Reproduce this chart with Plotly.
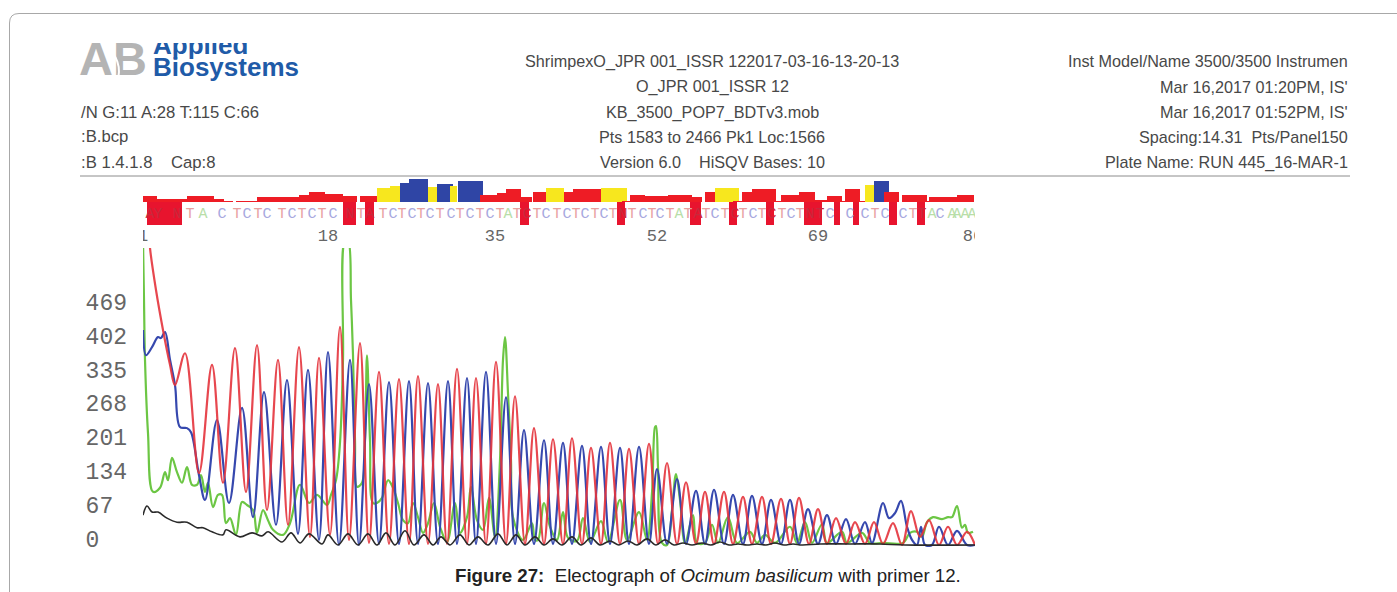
import plotly.graph_objects as go

W, H = 1397, 592

# ---- trace data: (scan position, signal) -----------------------------------
red_x = [149,150,156,163,170,175,185,199,212,223,235,246,257,267,278,288,299,310,319,330,340,349,360,369,
         379,389,399,409,418,428,438,447,457,467,476,486,496,506,515,525,534,544,553,563,572,582,591,601,
         610,620,629,639,649,658,667,677,686,696,705,714,724,733,743,752,762,771,781,790,799,809,818,827,
         836,846,855,865,874,883,893,902,911,920,929,939,948,957,967,975]
red_y = [622,587,504,425,356,316,379,142,356,123,389,105,395,69,366,40,391,16,370,20,431,10,399,4,
         342,2,328,2,334,2,318,2,348,2,330,2,362,2,294,2,231,2,209,2,211,2,192,2,
         202,2,190,2,200,2,162,2,124,2,105,2,105,2,95,2,95,2,91,2,93,2,71,2,
         53,2,45,2,45,2,43,0,67,16,49,0,36,0,26,0]

blue_x = [143,146,152,158,161,165,170,175,180,187,191,199,205,217,229,242,253,264,276,287,298,308,319,328,339,350,359,
          369,379,389,399,409,418,428,438,448,457,467,476,486,496,506,515,524,534,544,553,563,572,582,591,601,610,620,629,
          639,649,657,667,677,686,696,705,714,724,733,743,752,762,771,781,790,799,808,818,827,836,846,855,865,
          872,883,889,895,901,907,912,917,921,925,932,939,948,957,967,975]
blue_y = [425,375,391,411,409,421,366,316,233,231,223,138,89,247,83,271,55,302,40,326,22,346,10,381,0,366,0,
          318,2,322,2,324,2,320,2,324,2,330,2,342,2,292,2,227,2,207,2,202,2,196,2,194,2,192,2,
          194,2,150,2,130,2,107,2,109,2,99,2,97,2,89,2,89,2,71,2,59,2,51,2,45,
          4,83,53,63,87,36,10,0,36,0,0,36,0,28,0,0]

green_x = [143,144,145,148,153,160,165,168,172,177,182,187,192,197,201,205,208,213,218,222,226,230,236,242,247,253,257,263,268,273,283,290,300,309,317,327,331,336,340,343,
           345,348,351,353,355,357,362,365,367,370,373,377,382,388,393,398,403,408,413,418,423,428,434,440,447,455,460,467,471,477,483,489,495,500,503,505,508,511,513,
           523,532,535,538,544,550,557,563,568,577,583,590,601,608,620,627,639,647,652,655,656,658,662,667,672,676,680,685,693,697,705,712,718,728,737,750,757,765,775,
           790,797,805,812,822,827,842,847,862,870,883,903,910,917,922,927,933,942,948,952,957,962,965,968,973]
green_y = [603,484,366,221,105,113,144,128,172,144,123,154,119,119,138,105,123,75,99,99,43,53,20,85,79,69,24,69,49,30,20,43,119,83,99,79,99,128,202,366,
           603,603,484,375,207,115,123,207,375,207,83,83,93,128,113,83,49,43,83,55,24,43,83,36,6,83,24,55,115,49,30,93,16,168,366,411,300,168,55,
           10,43,10,10,83,36,10,65,14,8,53,6,47,6,89,10,65,10,103,233,235,154,4,0,69,140,89,4,59,4,4,40,4,55,4,26,4,20,4,
           36,4,45,4,41,4,26,4,24,4,4,4,24,26,16,45,55,51,55,55,77,34,40,24,26]

black_x = [143,147,152,158,167,177,187,197,203,212,223,226,240,252,262,268,282,291,300,309,322,328,338,348,358,368,377,
           386,395,405,414,424,433,441,450,460,469,478,488,498,507,516,525,535,544,553,562,572,581,591,600,610,619,628,637,647,656,
           665,674,683,692,702,711,720,729,738,747,757,766,775,784,793,802,820,850,880,905,975]
black_y = [59,77,65,65,53,45,45,34,34,26,20,30,16,24,18,26,6,24,4,22,2,20,0,22,0,22,0,
           24,0,28,0,20,0,16,0,20,0,16,0,22,0,20,0,16,0,12,0,16,0,14,0,8,0,8,0,12,0,
           10,0,4,0,4,0,6,0,2,0,2,0,4,0,2,0,2,2,2,0,0]

# ---- y tick labels ----------------------------------------------------------
y_ticks = [0,67,134,201,268,335,402,469]

# ---- quality bars: start, end, height, colour class ---------------------------
q_start = [142,157,187,214,224,236,257,299,309,325,343,360,377,390,400,409,428,437,450,458,480,497,506,521,533,546,564,573,601,622,630,645,668,692,705,715,733,742,752,776,781,799,815,827,842,845,860,865,874,884,902,927,929,957,
           147,343,365,520,617,690,729,766,804,834,853,889,917]
q_end   = [157,187,214,224,233,257,299,309,325,343,357,377,390,400,409,428,437,453,457,483,497,506,521,532,546,564,573,601,627,630,645,668,692,702,715,739,742,752,776,781,799,815,827,842,845,860,865,874,889,899,927,929,957,974,
           182,356,374,529,625,701,737,774,822,840,859,897,925]
q_val   = [6,3,6,3,1,1,5,7,10,8,6,6,14,16,19,23,15,18,16,21,7,9,13,5,10,14,10,13,14,1,7,6,7,5,10,14,1,10,13,1,7,10,2,6,1,13,1,17,21,10,7,1,5,7,
           -23,-23,-23,-23,-23,-23,-23,-23,-23,-23,-23,-23,-23]
q_kind  = list("rrrrrrrrrrrr" "yybbybyb" "rrrrr" "y" "rr" "y" "rrrrrr" "y" "rrrrrrrrrrr" "yb" "rrrrr") + list("d"*13)
Q_COL = {"r": "#ee1c25", "y": "#f7e71e", "b": "#2f45a5", "d": "#e8142e"}

# ---- called bases -----------------------------------------------------------
seq_x = [150,158,177,190,203,222,237,247,258,267,282,292,302,312,322,333,350,361,370,383,393,402,412,421,430,
         440,451,460,470,480,490,500,508,517,527,537,546,557,567,576,585,595,604,613,623,632,643,652,660,670,679,688,698,
         706,715,725,735,743,753,762,772,782,791,800,810,820,830,850,865,875,885,903,913,922,932,940,952,957,965,972]
seq_b = list("AYNTACTCTCTCTCTCNTATCTCTC" "TCTCTCTATCTCTCTCTCTNTCTCTATA" "TCTCTCTCTCTNTCCCTCCTTACAAAA")
BASE_COL = {"T": "#e8a0a0", "C": "#a8a8e0", "A": "#b8dea8", "N": "#b89090", "Y": "#b8c8a0"}
base_col = [("#c8283c" if any(a <= x <= b for a, b, v in zip(q_start, q_end, q_val) if v < 0) else BASE_COL[c])
            for x, c in zip(seq_x, seq_b)]

# ---- position-axis labels ---------------------------------------------------
pos_x = [143,328,495,657,818,973]
pos_text = ["1","18","35","52","69","86"]

# ---- text blocks ------------------------------------------------------------
left_text = ["/N G:11 A:28 T:115 C:66", ":B.bcp", ":B 1.4.1.8    Cap:8"]
center_text = ["ShrimpexO_JPR 001_ISSR 122017-03-16-13-20-13", "O_JPR 001_ISSR 12",
               "KB_3500_POP7_BDTv3.mob", "Pts 1583 to 2466 Pk1 Loc:1566", "Version 6.0    HiSQV Bases: 10"]
right_text = ["Inst Model/Name 3500/3500 Instrumen", "Mar 16,2017 01:20PM, IS'", "Mar 16,2017 01:52PM, IS'",
              "Spacing:14.31  Pts/Panel150", "Plate Name: RUN 445_16-MAR-1"]

fig = go.Figure()
common = dict(mode="lines", hoverinfo="skip", showlegend=False)
spl = dict(shape="spline", smoothing=1.0, width=2.2)
fig.add_trace(go.Scatter(x=green_x, y=green_y, line=dict(color="#6cc644", **spl), **common))
fig.add_trace(go.Scatter(x=blue_x, y=blue_y, line=dict(color="#3648ae", **spl), **common))
fig.add_trace(go.Scatter(x=red_x, y=red_y, line=dict(color="#e5343c", **spl), opacity=0.9, **common))
fig.add_trace(go.Scatter(x=black_x, y=black_y, line=dict(color="#2a2a2a", shape="spline", smoothing=1.0, width=1.6), **common))

fig.add_trace(go.Bar(x=[(a+b)/2 for a, b in zip(q_start, q_end)], width=[b-a for a, b in zip(q_start, q_end)],
                     y=q_val, yaxis="y2", marker=dict(color=[Q_COL[k] for k in q_kind], line_width=0),
                     hoverinfo="skip", showlegend=False))
fig.add_trace(go.Scatter(x=seq_x, y=[-12]*len(seq_x), yaxis="y2", mode="text", text=seq_b,
                         textfont=dict(family="Liberation Mono", size=15, color=base_col),
                         hoverinfo="skip", showlegend=False))
fig.add_trace(go.Scatter(x=pos_x, y=[-35]*len(pos_x), yaxis="y2", mode="text", text=pos_text,
                         textfont=dict(family="Liberation Mono", size=17, color="#666666"),
                         hoverinfo="skip", showlegend=False))

# logo, clipped at its top edge
fig.add_trace(go.Scatter(x=[153,153], y=[47,69], xaxis="x3", yaxis="y3", mode="text",
                         text=["Applied","Biosystems"], textposition="middle right",
                         textfont=dict(family="Liberation Sans", size=26, color="#1f5ba8", weight="bold"),
                         hoverinfo="skip", showlegend=False))
fig.add_trace(go.Scatter(x=[79], y=[63], xaxis="x3", yaxis="y3", mode="text", text=["AB"],
                         textposition="middle right",
                         textfont=dict(family="Liberation Sans", size=47, color="#b4b4b4", weight="bold"),
                         hoverinfo="skip", showlegend=False))

ann = []
def add(lines, ys, x, anchor, size):
    for t, y in zip(lines, ys):
        ann.append(dict(text=t, x=x/W, y=1-y/H, xref="paper", yref="paper", xanchor=anchor, yanchor="middle",
                        showarrow=False, font=dict(family="Liberation Sans", size=size, color="#484848")))
add(left_text, [112,137,162], 79, "left", 16.7)
add(center_text, [61,86,112,137,162], 712, "center", 16.2)
add(right_text, [61,87,112,137,162], 1350, "right", 16.2)
ann.append(dict(text="<b>Figure 27:</b>  Electograph of <i>Ocimum basilicum</i> with primer 12.",
                x=708/W, y=1-575/H, xref="paper", yref="paper", xanchor="center", yanchor="middle", showarrow=False,
                font=dict(family="Liberation Sans", size=18.7, color="#222222")))

shapes = [
    dict(type="path", xref="paper", yref="paper", layer="below",
         path=f"M {9.5/W},-0.02 L {9.5/W},{1-23/H} Q {9.5/W},{1-13.5/H} {19/W},{1-13.5/H} L 1.02,{1-13.5/H}",
         line=dict(color="#a8a8a8", width=1)),
    dict(type="line", xref="paper", yref="paper", x0=80/W, x1=1350/W, y0=1-176/H, y1=1-176/H,
         line=dict(color="#8c8c8c", width=1)),
    dict(type="path", xref="x3", yref="y3", layer="above", path="M 105,46 C 117,54 122,68 117,82",
         line=dict(color="white", width=2)),
]

fig.update_layout(
    width=W, height=H, autosize=False, margin=dict(l=0, r=0, t=0, b=0, autoexpand=False),
    paper_bgcolor="white", plot_bgcolor="rgba(0,0,0,0)", barmode="overlay", bargap=0,
    xaxis=dict(domain=[143/W, 975/W], range=[143, 975], visible=False, anchor="y"),
    yaxis=dict(domain=[1-547/H, 1-248/H], range=[-4, 587], tickmode="array", tickvals=y_ticks,
               ticktext=[f"{v:<3}".replace(" ", "\u00a0") for v in y_ticks],
               showgrid=False, zeroline=False, showline=False, ticks="", ticklabelshift=-6, ticklabelstandoff=15,
               tickfont=dict(family="Liberation Mono", size=23, color="#666666"), anchor="x"),
    yaxis2=dict(domain=[1-245/H, 1-178/H], range=[-43, 24], visible=False, anchor="x"),
    xaxis3=dict(domain=[70/W, 320/W], range=[70, 320], visible=False, anchor="y3"),
    yaxis3=dict(domain=[1-90/H, 1-43/H], range=[90, 43], visible=False, anchor="x3"),
    annotations=ann, shapes=shapes,
)
fig.write_html("out.html", config={"displayModeBar": False},
               post_script="document.body.style.margin='0';document.body.style.overflow='hidden';")
